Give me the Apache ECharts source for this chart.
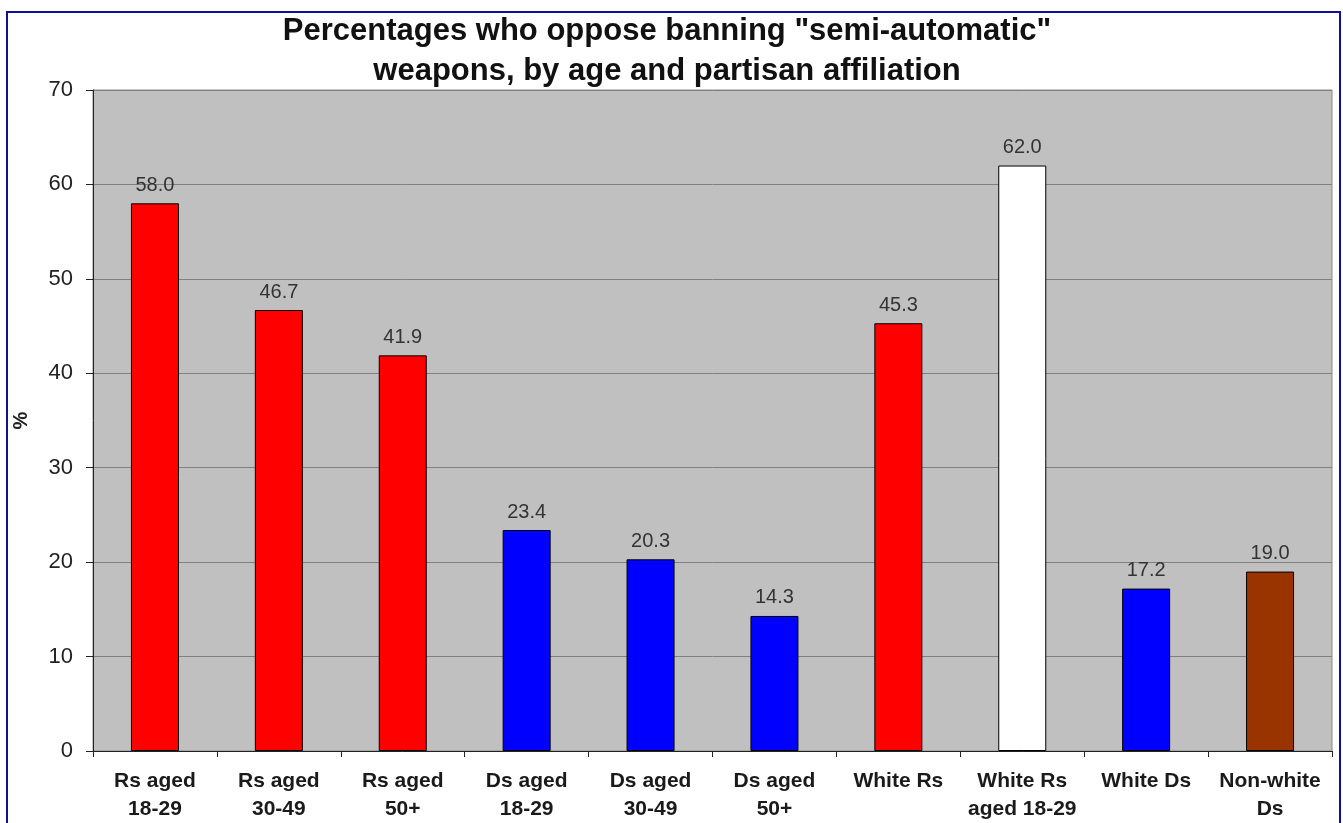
<!DOCTYPE html>
<html>
<head>
<meta charset="utf-8">
<script src="https://cdn.jsdelivr.net/npm/echarts@6/dist/echarts.min.js"></script>
<style>
html,body{margin:0;padding:0;background:#fff;}
#chart{width:1343px;height:823px;}
</style>
</head>
<body>
<div id="chart"></div>
<script>
const categories = ["Rs aged\n18-29", "Rs aged\n30-49", "Rs aged\n50+", "Ds aged\n18-29", "Ds aged\n30-49", "Ds aged\n50+", "White Rs", "White Rs\naged 18-29", "White Ds", "Non-white\nDs"];
const values = [58.0, 46.7, 41.9, 23.4, 20.3, 14.3, 45.3, 62.0, 17.2, 19.0];
const barColors = ["#ff0000", "#ff0000", "#ff0000", "#0000ff", "#0000ff", "#0000ff", "#ff0000", "#ffffff", "#0000ff", "#993300"];
const yTicks = { min: 0, max: 70, interval: 10 };
const titleText = 'Percentages who oppose banning "semi-automatic"\nweapons, by age and partisan affiliation';
const yName = "%";

const chart = echarts.init(document.getElementById('chart'), null, { renderer: 'canvas' });
const font = 'Liberation Sans, Arial, sans-serif';
chart.setOption({
  backgroundColor: '#ffffff',
  animation: false,
  graphic: [{
    type: 'rect',
    shape: { x: 7, y: 12, width: 1333, height: 900 },
    style: { fill: 'none', stroke: '#10109a', lineWidth: 2 },
    silent: true,
    z: 100
  }],
  title: {
    text: titleText,
    left: 662,
    textAlign: 'center',
    top: 6,
    textStyle: { fontFamily: font, fontSize: 31, fontWeight: 'bold', color: '#111', lineHeight: 40 }
  },
  grid: {
    left: 93, right: 11, top: 90, bottom: 72,
    show: true, backgroundColor: '#c0c0c0', borderColor: '#8a8a8a', borderWidth: 1
  },
  xAxis: {
    type: 'category',
    data: categories,
    axisLine: { lineStyle: { color: '#222', width: 1 } },
    axisTick: { show: true, length: 6, lineStyle: { color: '#222' } },
    axisLabel: {
      interval: 0, margin: 16, fontFamily: font, fontSize: 21, fontWeight: 'bold',
      color: '#1a1a1a', lineHeight: 28
    }
  },
  yAxis: {
    type: 'value',
    min: yTicks.min, max: yTicks.max, interval: yTicks.interval,
    name: yName,
    nameLocation: 'middle',
    nameGap: 62,
    nameRotate: 90,
    nameTextStyle: { fontFamily: font, fontSize: 20, fontWeight: 'bold', color: '#222' },
    axisLine: { show: true, lineStyle: { color: '#222', width: 1 } },
    axisTick: { show: true, length: 7, lineStyle: { color: '#222' } },
    axisLabel: { margin: 20, fontFamily: font, fontSize: 22, color: '#222' },
    splitLine: { show: true, lineStyle: { color: '#808080', width: 1 } }
  },
  series: [{
    type: 'bar',
    barWidth: 48,
    data: values.map((v, i) => ({
      value: v,
      itemStyle: { color: barColors[i], borderColor: '#000', borderWidth: 1 }
    })),
    label: {
      show: true, position: 'top', distance: 8,
      fontFamily: font, fontSize: 20, color: '#333',
      formatter: p => p.value.toFixed(1)
    }
  }]
});
</script>
</body>
</html>
